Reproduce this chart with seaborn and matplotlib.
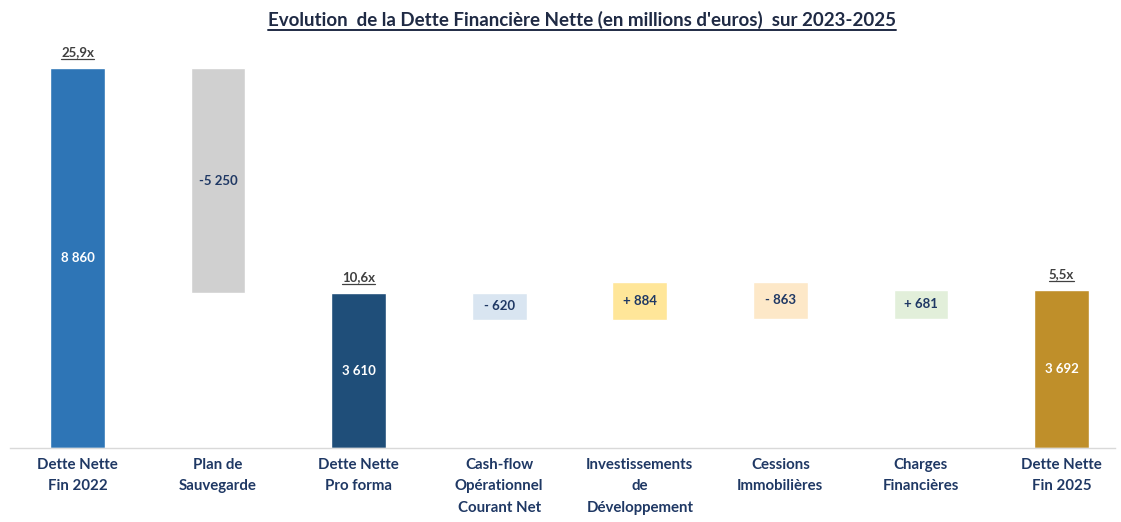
import matplotlib
matplotlib.use("Agg")
import matplotlib.pyplot as plt
import seaborn as sns
import pandas as pd
from matplotlib.lines import Line2D

# Data
categories = ["Dette Nette\nFin 2022", "Plan de\nSauvegarde", "Dette Nette\nPro forma",
              "Cash-flow\nOpérationnel\nCourant Net", "Investissements\nde\nDéveloppement",
              "Cessions\nImmobilières", "Charges\nFinancières", "Dette Nette\nFin 2025"]
values = [8860, -5250, 3610, -620, 884, -863, 681, 3692]
is_total = [True, False, True, False, False, False, False, True]
value_labels = ["8 860", "-5 250", "3 610", "- 620", "+ 884", "- 863", "+ 681", "3 692"]
multiples = ["25,9x", "", "10,6x", "", "", "", "", "5,5x"]
colors = ["#2E75B6", "#D0D0D0", "#1F4E79", "#D9E5F1", "#FFE699", "#FDE8C8", "#E2EFDA", "#BF8F2A"]
label_colors = ["white", "#1F3864", "white", "#1F3864", "#1F3864", "#1F3864", "#1F3864", "white"]

# waterfall bottoms / heights
bottoms, heights = [], []
running = 0
for v, tot in zip(values, is_total):
    if tot:
        bottoms.append(0)
        heights.append(v)
        running = v
    else:
        bottoms.append(min(running, running + v))
        heights.append(abs(v))
        running += v

df = pd.DataFrame({"cat": categories, "height": heights, "bottom": bottoms})

sns.set_style("white")
plt.rcParams["font.family"] = ["Lato", "DejaVu Sans"]

fig = plt.figure(figsize=(11.21, 5.22), dpi=100)
ax = fig.add_axes([0.0089, 0.1418, 0.9857, 0.7816])

sns.barplot(data=df, x="cat", y="height", hue="cat", palette=colors, legend=False,
            width=0.39, saturation=1, ax=ax)

# move the floating bars up to their waterfall level
for patch, b in zip(ax.patches, bottoms):
    patch.set_y(b)

ax.set_xlim(-0.48, 7.38)
ax.set_ylim(0, 9513)
ax.set_xlabel("")
ax.set_ylabel("")
ax.set_yticks([])
ax.tick_params(axis="x", length=0, pad=7)
ax.set_xticks(range(len(categories)))
ax.set_xticklabels(categories, fontsize=10.8, fontweight="bold", color="#1F3864", linespacing=1.7)
for s in ["top", "right", "left"]:
    ax.spines[s].set_visible(False)
ax.spines["bottom"].set_color("#D9D9D9")
ax.spines["bottom"].set_linewidth(1)

# value labels in the middle of each bar
for i, (b, h) in enumerate(zip(bottoms, heights)):
    ax.text(i, b + h / 2, value_labels[i], ha="center", va="center", fontsize=9.5,
            fontweight="bold", color=label_colors[i])

# multiples above total bars
mult_texts = []
for i, m in enumerate(multiples):
    if m:
        t = ax.text(i, bottoms[i] + heights[i] + 230, m, ha="center", va="bottom",
                    fontsize=9.5, fontweight="bold", color="#404040")
        mult_texts.append(t)

title = fig.text(0.519, 0.962, "Evolution  de la Dette Financière Nette (en millions d'euros)  sur 2023-2025",
                 ha="center", va="center", fontsize=13.5, fontweight="bold", color="#1F2A44")

# underline texts
fig.canvas.draw()
renderer = fig.canvas.get_renderer()
for t, lw in [(title, 1.4)] + [(t, 0.9) for t in mult_texts]:
    bb = t.get_window_extent(renderer)
    y = (bb.y0 - 1) / fig.bbox.height
    fig.add_artist(Line2D([bb.x0 / fig.bbox.width, bb.x1 / fig.bbox.width], [y, y],
                          color=t.get_color(), linewidth=lw))

fig.savefig("out.png", dpi=100)
